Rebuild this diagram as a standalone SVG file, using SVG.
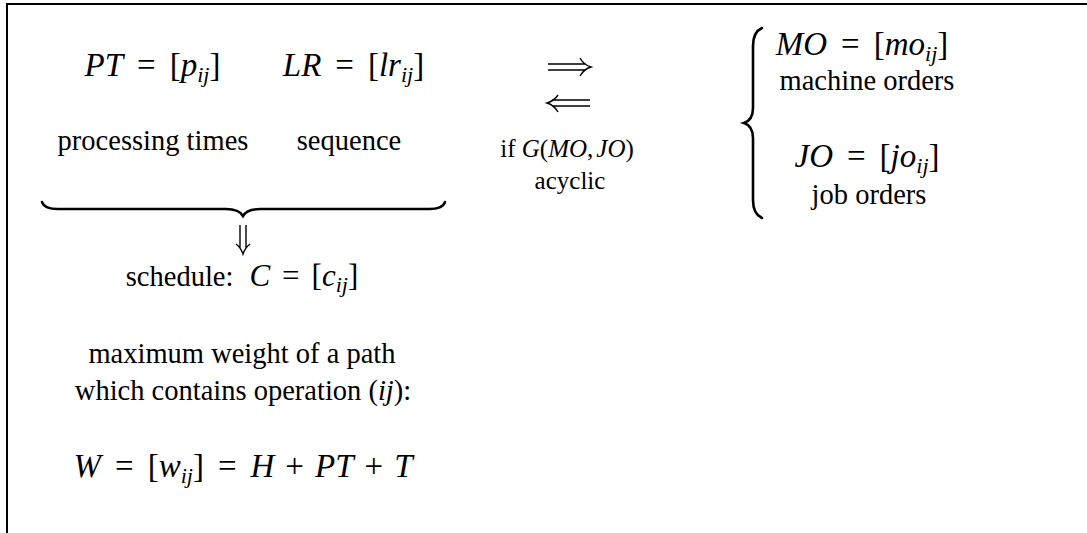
<svg xmlns="http://www.w3.org/2000/svg" width="1087" height="533" viewBox="0 0 1087 533">
<style>
text{font-family:"Liberation Serif","DejaVu Serif",serif;fill:#000;text-anchor:middle}
.m{font-size:33px}
.t{font-size:28.5px}
.c{font-size:25px}
.i{font-style:italic}
.s{font-size:22px;font-style:italic}
.ln{fill:none;stroke:#000;stroke-width:1.4}
.br{fill:none;stroke:#000;stroke-width:2.6;stroke-linecap:round}
</style>
<rect width="1087" height="533" fill="#fff"/>
<path d="M7,533 L7,4 L1087,4" fill="none" stroke="#000" stroke-width="2"/>
<g id="pt"><text class="m" x="152.5" y="76"><tspan class="i">PT</tspan><tspan dx="14">=</tspan><tspan dx="14">[</tspan><tspan class="i">p</tspan><tspan class="s" dy="6">ij</tspan><tspan dy="-6">]</tspan></text>
<text class="t" x="153" y="150">processing times</text></g>
<g id="lr"><text class="m" x="353.5" y="76"><tspan class="i">LR</tspan><tspan dx="14">=</tspan><tspan dx="14">[</tspan><tspan class="i">lr</tspan><tspan class="s" dy="6">ij</tspan><tspan dy="-6">]</tspan></text>
<text class="t" x="349" y="150">sequence</text></g>
<g id="brace-h"><path class="br" d="M42,202 Q44,209 58,209 L226,209 Q239,209 243,216 Q247,209 260,209 L429,209 Q443,209 445,202"/></g>
<g id="schedule"><text class="t" x="242" y="286">schedule:<tspan class="i" font-size="31" dx="16">C</tspan><tspan font-size="31" dx="12">=</tspan><tspan font-size="31" dx="12">[</tspan><tspan class="i" font-size="31">c</tspan><tspan class="s" font-size="21" dy="6">ij</tspan><tspan font-size="31" dy="-6">]</tspan></text></g>
<g id="weight"><text class="t" x="242" y="363">maximum weight of a path</text>
<text class="t" x="243" y="400">which contains operation (<tspan class="i">ij</tspan>):</text>
<text class="m" x="243" y="477"><tspan class="i">W</tspan><tspan dx="14">=</tspan><tspan dx="14">[</tspan><tspan class="i">w</tspan><tspan class="s" dy="6">ij</tspan><tspan dy="-6">]</tspan><tspan dx="14">=</tspan><tspan class="i" dx="14">H</tspan><tspan dx="11">+</tspan><tspan class="i" dx="11">PT</tspan><tspan dx="11">+</tspan><tspan class="i" dx="11">T</tspan></text></g>
<g id="cond"><text class="c" x="567" y="157">if <tspan class="i">G</tspan>(<tspan class="i">MO</tspan>,<tspan class="i" dx="3">JO</tspan>)</text>
<text class="c" x="570" y="189">acyclic</text></g>
<g id="brace-v"><path class="br" d="M762,28 Q753,32 753,46 L753,108 Q753,120 744,123 Q753,126 753,138 L753,200 Q753,214 762,218"/></g>
<g id="mo"><text class="m" x="862" y="55"><tspan class="i">MO</tspan><tspan dx="14">=</tspan><tspan dx="14">[</tspan><tspan class="i">mo</tspan><tspan class="s" dy="6">ij</tspan><tspan dy="-6">]</tspan></text>
<text class="t" x="867" y="90">machine orders</text></g>
<g id="jo"><text class="m" x="867" y="167"><tspan class="i">JO</tspan><tspan dx="14">=</tspan><tspan dx="14">[</tspan><tspan class="i">jo</tspan><tspan class="s" dy="6">ij</tspan><tspan dy="-6">]</tspan></text>
<text class="t" x="869" y="204">job orders</text></g>
<g id="connectors">
<path class="ln" d="M548,64 L586,64 M548,70 L586,70 M580,58 Q584,65 591,67 Q584,69 580,76"/>
<path class="ln" d="M552,100 L590,100 M552,106 L590,106 M558,95 Q554,101 547,103 Q554,105 558,112"/>
<path class="ln" d="M240,225 L240,248 M246,225 L246,248 M236,244 Q241,248 243,254 Q245,248 250,244"/>
</g>
</svg>
